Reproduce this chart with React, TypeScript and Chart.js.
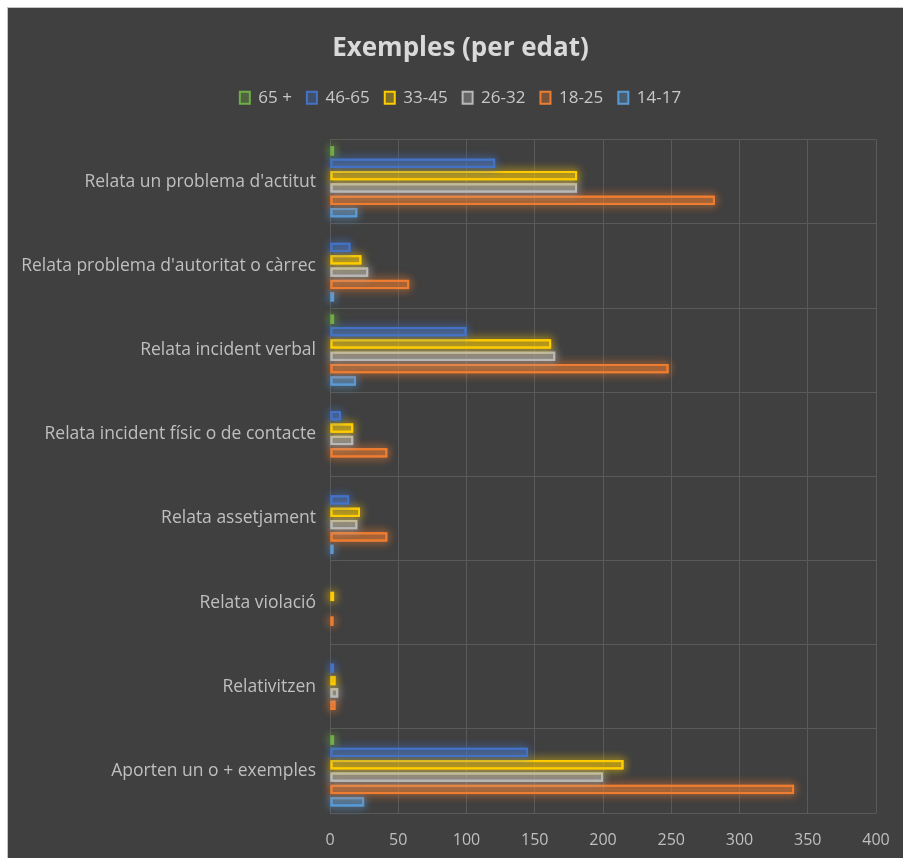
import React, { useEffect, useRef } from "react";
import { Chart, registerables } from "chart.js";

Chart.register(...registerables);

const categories = [
  "Relata un problema d'actitut",
  "Relata problema d'autoritat o càrrec",
  "Relata incident verbal",
  "Relata incident físic o de contacte",
  "Relata assetjament",
  "Relata violació",
  "Relativitzen",
  "Aporten un o + exemples",
];

const seriesLabels = ["65 +", "46-65", "33-45", "26-32", "18-25", "14-17"];

const s65plus = [3, 0, 3, 0, 0, 0, 0, 3];
const s46to65 = [121, 15, 100, 8, 14, 0, 3, 145];
const s33to45 = [181, 23, 162, 17, 22, 3, 4, 215];
const s26to32 = [181, 28, 165, 17, 20, 0, 6, 200];
const s18to25 = [282, 58, 248, 42, 42, 2, 4, 340];
const s14to17 = [20, 3, 19, 0, 2, 0, 0, 25];

const seriesValues = [s65plus, s46to65, s33to45, s26to32, s18to25, s14to17];

const xTicks = [0, 50, 100, 150, 200, 250, 300, 350, 400];

const seriesColors = ["#70ad47", "#4472c4", "#ffcc00", "#b8b8b8", "#ed7d31", "#5b9bd5"];

function hexToRgba(hex: string, a: number) {
  const n = parseInt(hex.slice(1), 16);
  return `rgba(${(n >> 16) & 255},${(n >> 8) & 255},${n & 255},${a})`;
}

const glowPlugin = {
  id: "glow",
  beforeDatasetDraw(chart: any, args: any) {
    const ctx = chart.ctx;
    const color = seriesColors[args.index];
    ctx.save();
    ctx.shadowColor = hexToRgba(color, 1);
    ctx.shadowBlur = 10;
    ctx.strokeStyle = hexToRgba(color, 0.85);
    ctx.lineWidth = 2;
    for (let pass = 0; pass < 2; pass++) {
      args.meta.data.forEach((el: any) => {
        const p = el.getProps(["x", "y", "base", "height"], true);
        const w = Math.abs(p.x - p.base);
        if (w < 0.5) return;
        ctx.strokeRect(Math.min(p.base, p.x) + 1, p.y - p.height / 2 + 1, Math.max(w - 2, 1), p.height - 2);
      });
    }
    ctx.restore();
  },
};

export default function App() {
  const ref = useRef<HTMLCanvasElement | null>(null);

  useEffect(() => {
    document.body.style.margin = "0";
    if (!ref.current) return;
    const font = "'Open Sans', sans-serif";
    const chart = new Chart(ref.current, {
      type: "bar",
      data: {
        labels: categories,
        datasets: seriesLabels.map((lab, i) => ({
          label: lab,
          data: seriesValues[i],
          xAxisID: "x",
          yAxisID: "y",
          backgroundColor: hexToRgba(seriesColors[i], 0.32),
          borderColor: seriesColors[i],
          borderWidth: 2,
          borderSkipped: false,
          categoryPercentage: 0.88,
          barPercentage: 0.75,
        })),
      },
      plugins: [glowPlugin],
      options: {
        indexAxis: "y",
        animation: false,
        responsive: true,
        maintainAspectRatio: false,
        layout: { padding: { top: 0, right: 0, bottom: 0, left: 10 } },
        plugins: {
          title: {
            display: true,
            text: "Exemples (per edat)",
            color: "#d9d9d9",
            font: { family: font, size: 26, weight: "bold", lineHeight: 1.2 },
            padding: { top: 25, bottom: 10 },
          },
          legend: {
            display: true,
            position: "top",
            labels: {
              color: "#c8c8c8",
              font: { family: font, size: 17 },
              boxWidth: 10,
              boxHeight: 12,
              padding: 15,
            },
          },
          tooltip: { enabled: false },
        },
        scales: {
          xTop: {
            type: "linear",
            position: "top",
            display: true,
            grid: { display: false },
            border: { display: false },
            ticks: { display: false },
            afterFit(s: any) {
              s.height = 23.5;
              s.paddingLeft = 0;
              s.paddingRight = 0;
            },
          },
          x: {
            type: "linear",
            position: "bottom",
            min: 0,
            max: 400,
            afterBuildTicks(s: any) {
              s.ticks = xTicks.map((v) => ({ value: v }));
            },
            afterFit(s: any) {
              s.height = 45;
              s.paddingLeft = 0;
              s.paddingRight = 0;
            },
            grid: { color: "#5a5a5a", lineWidth: 1, drawTicks: false },
            border: { display: false },
            ticks: {
              color: "#bfbfbf",
              padding: 18,
              font: { family: font, size: 16 },
            },
          },
          y: {
            type: "category",
            position: "left",
            afterFit(s: any) {
              s.width = 312;
            },
            grid: { color: "#5a5a5a", lineWidth: 1, drawTicks: false, offset: true },
            border: { display: false },
            ticks: {
              autoSkip: false,
              color: "#bfbfbf",
              padding: 14,
              font: { family: font, size: 17.5 },
            },
          },
          yRight: {
            type: "category",
            position: "right",
            display: true,
            grid: { display: false },
            border: { display: false },
            ticks: { display: false },
            afterFit(s: any) {
              s.width = 27;
            },
          },
        },
      } as any,
    });
    return () => chart.destroy();
  }, []);

  return (
    <div style={{ position: "fixed", left: 0, top: 0, width: 903, height: 858, background: "#ffffff", overflow: "hidden" }}>
      <div
        style={{
          position: "absolute",
          left: 7,
          top: 7,
          width: 896,
          height: 851,
          boxSizing: "border-box",
          borderLeft: "1px solid #c4c4c4",
          borderTop: "1px solid #c4c4c4",
          background: "#404040",
        }}
      >
        <div style={{ position: "relative", width: 895, height: 850 }}>
          <canvas ref={ref} />
        </div>
      </div>
    </div>
  );
}
